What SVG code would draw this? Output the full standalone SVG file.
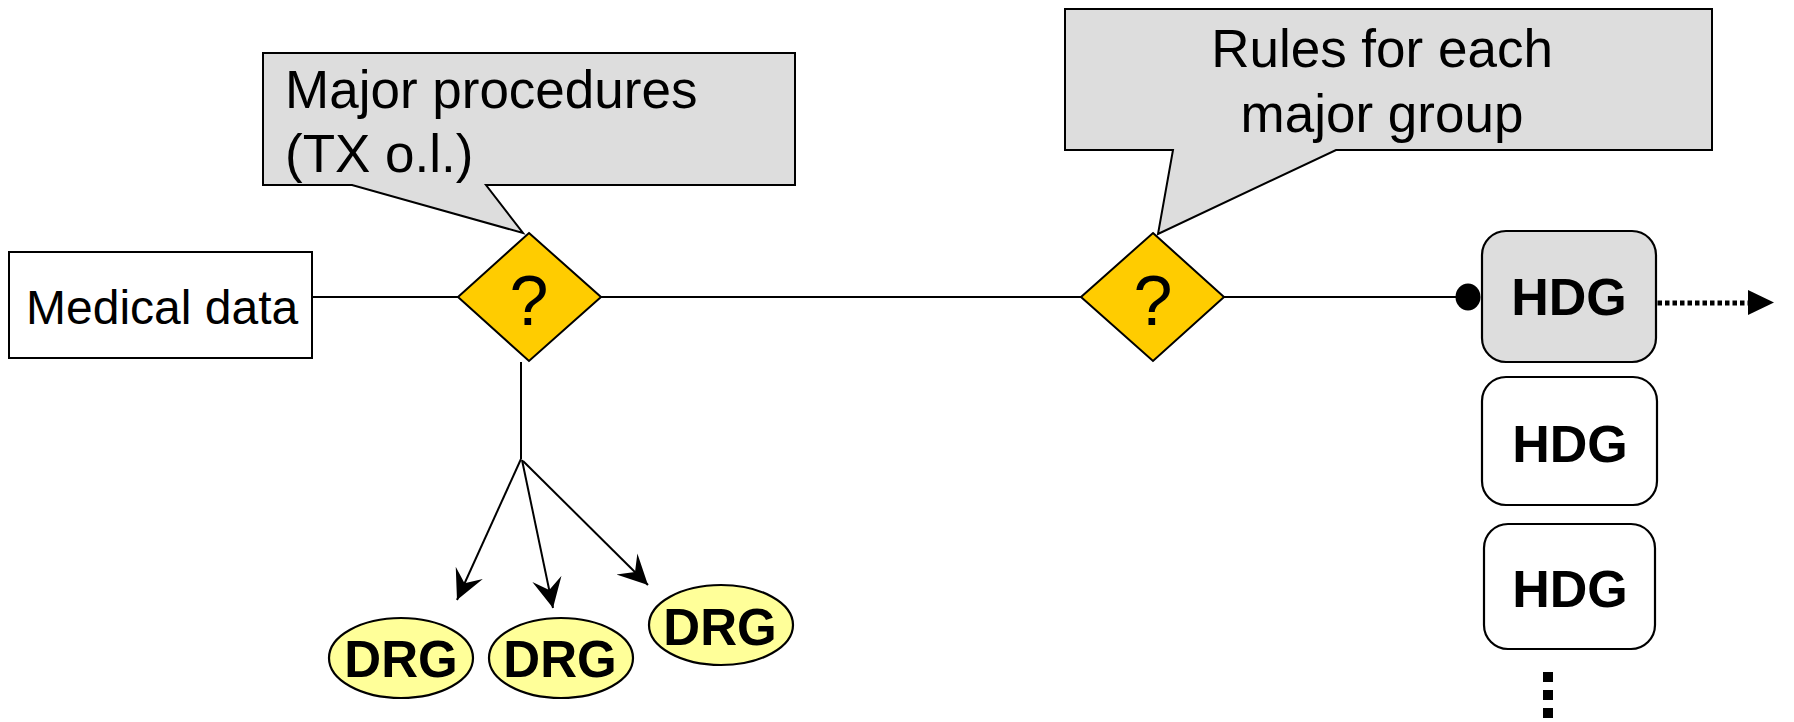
<svg xmlns="http://www.w3.org/2000/svg" width="1794" height="722" viewBox="0 0 1794 722">
<style>
.ln{stroke:#000;stroke-width:2;fill:none}
.box{stroke:#000;stroke-width:2}
.callout{fill:#DDDDDD;stroke:#000;stroke-width:2;stroke-linejoin:miter}
.dia{fill:#FFCC00;stroke:#000;stroke-width:2}
.hdg{stroke:#000;stroke-width:2.2}
.drg{fill:#FFFF99;stroke:#000;stroke-width:2.2}
.t{font-family:"Liberation Sans",Arial,sans-serif;fill:#000}
.b{font-family:"Liberation Sans",Arial,sans-serif;font-weight:bold;fill:#000;text-anchor:middle}
</style>
<defs>
<marker id="stealth" markerUnits="userSpaceOnUse" markerWidth="32" markerHeight="32" viewBox="-26 -14 28 28" refX="0" refY="0" orient="auto">
<path d="M0,0 L-26,-13 L-16,0 L-26,13 Z" fill="#000"/>
</marker>
</defs>

<g id="connectors">
<line class="ln" x1="312" y1="297" x2="458" y2="297"/>
<line class="ln" x1="601" y1="297" x2="1081" y2="297"/>
<line class="ln" x1="1224" y1="297" x2="1462" y2="297"/>
<ellipse cx="1468" cy="297" rx="12.5" ry="13.5" fill="#000"/>
<line class="ln" x1="521" y1="362" x2="521" y2="459"/>
<line class="ln" x1="521" y1="459" x2="457" y2="600" marker-end="url(#stealth)"/>
<line class="ln" x1="522" y1="460" x2="553" y2="608" marker-end="url(#stealth)"/>
<line class="ln" x1="523" y1="461" x2="648" y2="585" marker-end="url(#stealth)"/>
<line x1="1650" y1="303" x2="1752" y2="303" stroke="#000" stroke-width="5" stroke-dasharray="4.5 3"/>
<path d="M1774,302.5 L1748,290 L1748,315 Z" fill="#000"/>
<line x1="1548" y1="672" x2="1548" y2="722" stroke="#000" stroke-width="10" stroke-dasharray="10 8"/>
</g>

<g id="callout-major-procedures">
<path class="callout" d="M263,53 L795,53 L795,185 L486,185 L523,233 L352,185 L263,185 Z"/>
<text class="t" x="285" y="108" font-size="53">Major procedures</text>
<text class="t" x="285" y="172" font-size="53">(TX o.l.)</text>
</g>

<g id="callout-rules">
<path class="callout" d="M1065,9 L1712,9 L1712,150 L1336,150 L1158,234 L1173,150 L1065,150 Z"/>
<text class="t" x="1382" y="67" font-size="53" text-anchor="middle">Rules for each</text>
<text class="t" x="1382" y="132" font-size="53" text-anchor="middle">major group</text>
</g>

<g id="medical-data">
<rect class="box" x="9" y="252" width="303" height="106" fill="#fff"/>
<text class="t" x="26" y="324" font-size="48">Medical data</text>
</g>

<g id="decision-1">
<polygon class="dia" points="529,233 601,297 529,361 458,297"/>
<text class="t" x="529" y="325" font-size="70" text-anchor="middle">?</text>
</g>

<g id="decision-2">
<polygon class="dia" points="1153,233 1224,297 1153,361 1081,297"/>
<text class="t" x="1153" y="325" font-size="70" text-anchor="middle">?</text>
</g>

<g id="hdg-1">
<rect class="hdg" x="1482" y="231" width="174" height="131" rx="24" ry="24" fill="#DDDDDD"/>
<text class="b" x="1569" y="315" font-size="52">HDG</text>
</g>
<g id="hdg-2">
<rect class="hdg" x="1482" y="377" width="175" height="128" rx="24" ry="24" fill="#fff"/>
<text class="b" x="1570" y="462" font-size="52">HDG</text>
</g>
<g id="hdg-3">
<rect class="hdg" x="1484" y="524" width="171" height="125" rx="24" ry="24" fill="#fff"/>
<text class="b" x="1570" y="607" font-size="52">HDG</text>
</g>

<g id="drg-1">
<ellipse class="drg" cx="401" cy="658" rx="72" ry="40"/>
<text class="b" x="401" y="677" font-size="51">DRG</text>
</g>
<g id="drg-2">
<ellipse class="drg" cx="561" cy="658" rx="72" ry="40"/>
<text class="b" x="560" y="677" font-size="51">DRG</text>
</g>
<g id="drg-3">
<ellipse class="drg" cx="721" cy="625" rx="72" ry="40"/>
<text class="b" x="720" y="645" font-size="51">DRG</text>
</g>
</svg>
